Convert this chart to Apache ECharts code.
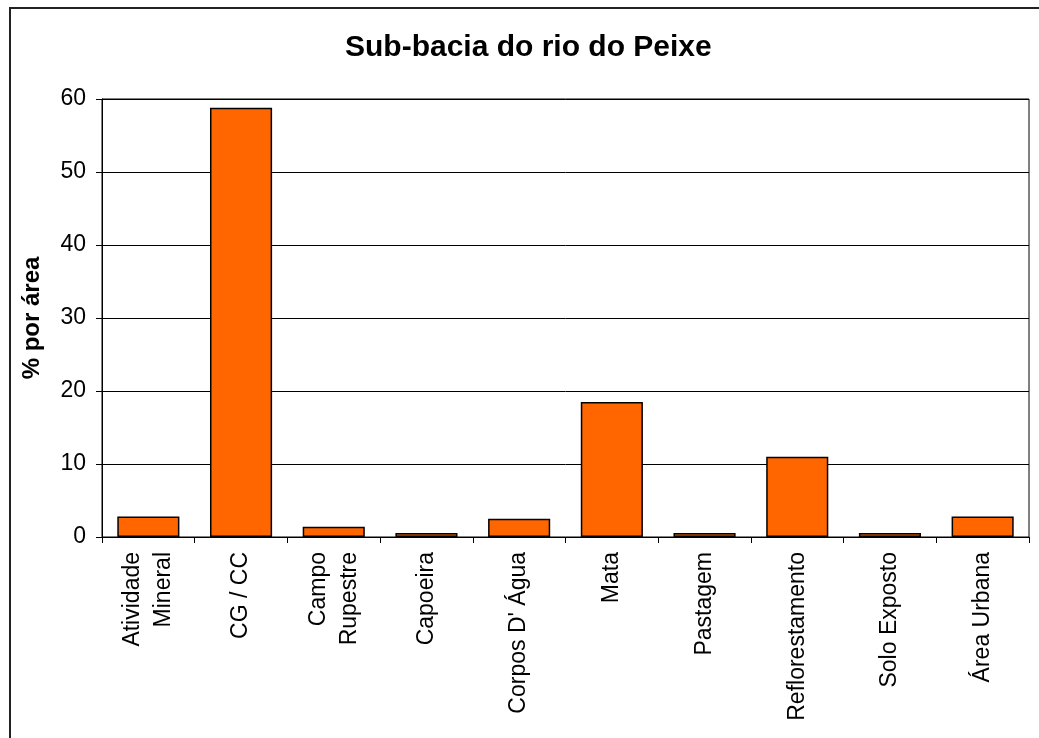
<!DOCTYPE html>
<html>
<head>
<meta charset="utf-8">
<script src="https://cdn.jsdelivr.net/npm/echarts@6/dist/echarts.min.js"></script>
<style>html,body{margin:0;padding:0;background:#fff;}#c{width:1039px;height:738px;}</style>
</head>
<body>
<div id="c"></div>
<script>
const categories = ['Atividade\nMineral', 'CG / CC', 'Campo\nRupestre', 'Capoeira', "Corpos D' Água", 'Mata', 'Pastagem', 'Reflorestamento', 'Solo Exposto', 'Área Urbana'];
const values = [2.8, 58.8, 1.4, 0.55, 2.5, 18.5, 0.55, 11.0, 0.55, 2.8];
const yTicks = [0, 10, 20, 30, 40, 50, 60];

const font = 'Liberation Sans, Arial, sans-serif';
const chart = echarts.init(document.getElementById('c'));
chart.setOption({
  animation: false,
  backgroundColor: '#fff',
  graphic: [{
    type: 'rect', shape: {x: 10, y: 8, width: 1200, height: 900},
    style: {fill: 'none', stroke: '#222', lineWidth: 2}, silent: true, z: -1
  }],
  title: {
    text: 'Sub-bacia do rio do Peixe', left: 345, top: 33, padding: 0,
    textStyle: {fontFamily: font, fontSize: 30, fontWeight: 'bold', color: '#000'}
  },
  grid: {left: 102, right: 10, top: 99, bottom: 201, show: true, borderColor: '#000', borderWidth: 1, containLabel: false},
  xAxis: {
    type: 'category', data: categories, boundaryGap: true,
    axisLine: {lineStyle: {color: '#000', width: 1}},
    axisTick: {show: true, length: 6, lineStyle: {color: '#000'}},
    axisLabel: {interval: 0, rotate: 90, margin: 15, fontFamily: font, fontSize: 23, color: '#000', lineHeight: 31}
  },
  yAxis: {
    type: 'value', min: yTicks[0], max: yTicks[yTicks.length - 1], interval: 10,
    name: '% por área', nameLocation: 'middle', nameGap: 58,
    nameTextStyle: {fontFamily: font, fontSize: 24, fontWeight: 'bold', color: '#000'},
    axisLine: {show: true, lineStyle: {color: '#000', width: 1}},
    axisTick: {show: true, length: 6, lineStyle: {color: '#000'}},
    axisLabel: {margin: 16, fontFamily: font, fontSize: 23, color: '#000'},
    splitLine: {show: true, lineStyle: {color: '#000', width: 1}}
  },
  series: [{
    type: 'bar', data: values, barCategoryGap: '33%',
    itemStyle: {color: '#FF6600', borderColor: '#000', borderWidth: 1.5}
  }]
});
</script>
</body>
</html>
